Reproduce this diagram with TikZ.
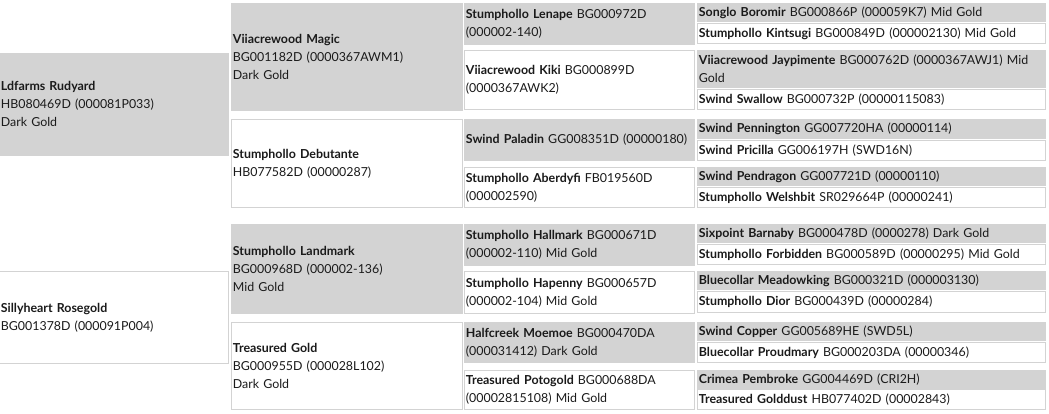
\documentclass[tikz,border=0pt]{standalone}
\usepackage{fontspec}
\setmainfont{Lato}
\usetikzlibrary{positioning}
\definecolor{pedgray}{HTML}{D3D3D3}
\definecolor{pedtext}{HTML}{1A1A1A}

\tikzset{
  horse/.style={anchor=north west,inner xsep=1.5pt,inner ysep=0pt,align=left,
    text=pedtext,line width=0.8pt,font=\fontsize{12.4}{18}\selectfont},
  sirebox/.style={horse,fill=pedgray,draw=pedgray},
  dambox/.style={horse,fill=white,draw=pedgray},
  genone/.style={minimum width=229pt,text width=226pt},
  gentwo/.style={minimum width=231pt,text width=228pt},
  genthree/.style={minimum width=230pt,text width=227pt},
  genfour/.style={minimum width=348pt,text width=345pt},
}

\begin{document}
\begin{tikzpicture}[x=1pt,y=-1pt]
\useasboundingbox (0,0) rectangle (1049,413);

% parents
\node[sirebox,genone,minimum height=102pt] (s) at (-1,53)
  {\textbf{Ldfarms Rudyard}\\HB080469D (000081P033)\\Dark Gold};
\node[dambox,genone,minimum height=92pt] (d) at (-1,271)
  {\textbf{Sillyheart Rosegold}\\BG001378D (000091P004)};

% grandparents
\node[sirebox,gentwo,minimum height=107pt] (ss) at (231,3)
  {\textbf{Viiacrewood Magic}\\BG001182D (0000367AWM1)\\Dark Gold};
\node[dambox,gentwo,minimum height=88pt] (sd) at (231,119)
  {\textbf{Stumphollo Debutante}\\HB077582D (00000287)};
\node[sirebox,gentwo,minimum height=89pt] (ds) at (231,224)
  {\textbf{Stumphollo Landmark}\\BG000968D (000002-136)\\Mid Gold};
\node[dambox,gentwo,minimum height=87pt] (dd) at (231,322)
  {\textbf{Treasured Gold}\\BG000955D (000028L102)\\Dark Gold};

% great grandparents
\node[sirebox,genthree,minimum height=41pt] (sss) at (464,3)
  {\textbf{Stumphollo Lenape} BG000972D\\(000002-140)};
\node[dambox,genthree,minimum height=59pt] (ssd) at (464,50)
  {\textbf{Viiacrewood Kiki} BG000899D\\(0000367AWK2)};
\node[sirebox,genthree,minimum height=41pt] (sds) at (464,119)
  {\textbf{Swind Paladin} GG008351D (00000180)};
\node[dambox,genthree,minimum height=40pt] (sdd) at (464,167)
  {\textbf{Stumphollo Aberdyfi} FB019560D\\(000002590)};
\node[sirebox,genthree,minimum height=41pt] (dss) at (464,224)
  {\textbf{Stumphollo Hallmark} BG000671D\\(000002-110) Mid Gold};
\node[dambox,genthree,minimum height=42pt] (dsd) at (464,271)
  {\textbf{Stumphollo Hapenny} BG000657D\\(000002-104) Mid Gold};
\node[sirebox,genthree,minimum height=40pt] (dds) at (464,322)
  {\textbf{Halfcreek Moemoe} BG000470DA\\(000031412) Dark Gold};
\node[dambox,genthree,minimum height=39pt] (ddd) at (464,370)
  {\textbf{Treasured Potogold} BG000688DA\\(00002815108) Mid Gold};

% great great grandparents
\node[sirebox,genfour,minimum height=18pt] (ssss) at (697,3)
  {\textbf{Songlo Boromir} BG000866P (000059K7) Mid Gold};
\node[dambox,genfour,minimum height=20pt] (sssd) at (697,23)
  {\textbf{Stumphollo Kintsugi} BG000849D (000002130) Mid Gold};
\node[sirebox,genfour,minimum height=37pt] (ssds) at (697,50)
  {\textbf{Viiacrewood Jaypimente} BG000762D (0000367AWJ1) Mid\\Gold};
\node[dambox,genfour,minimum height=20pt] (ssdd) at (697,89)
  {\textbf{Swind Swallow} BG000732P (00000115083)};
\node[sirebox,genfour,minimum height=19pt] (sdss) at (697,119)
  {\textbf{Swind Pennington} GG007720HA (00000114)};
\node[dambox,genfour,minimum height=20pt] (sdsd) at (697,140)
  {\textbf{Swind Pricilla} GG006197H (SWD16N)};
\node[sirebox,genfour,minimum height=18pt] (sdds) at (697,167)
  {\textbf{Swind Pendragon} GG007721D (00000110)};
\node[dambox,genfour,minimum height=20pt] (sddd) at (697,187)
  {\textbf{Stumphollo Welshbit} SR029664P (00000241)};
\node[sirebox,genfour,minimum height=18pt] (dsss) at (697,224)
  {\textbf{Sixpoint Barnaby} BG000478D (0000278) Dark Gold};
\node[dambox,genfour,minimum height=20pt] (dssd) at (697,244)
  {\textbf{Stumphollo Forbidden} BG000589D (00000295) Mid Gold};
\node[sirebox,genfour,minimum height=18pt] (dsds) at (697,271)
  {\textbf{Bluecollar Meadowking} BG000321D (000003130)};
\node[dambox,genfour,minimum height=21pt] (dsdd) at (697,291)
  {\textbf{Stumphollo Dior} BG000439D (00000284)};
\node[sirebox,genfour,minimum height=18pt] (ddss) at (697,322)
  {\textbf{Swind Copper} GG005689HE (SWD5L)};
\node[dambox,genfour,minimum height=20pt] (ddsd) at (697,342)
  {\textbf{Bluecollar Proudmary} BG000203DA (00000346)};
\node[sirebox,genfour,minimum height=18pt] (ddds) at (697,370)
  {\textbf{Crimea Pembroke} GG004469D (CRI2H)};
\node[dambox,genfour,minimum height=20pt] (dddd) at (697,389)
  {\textbf{Treasured Golddust} HB077402D (00002843)};
\end{tikzpicture}
\end{document}
